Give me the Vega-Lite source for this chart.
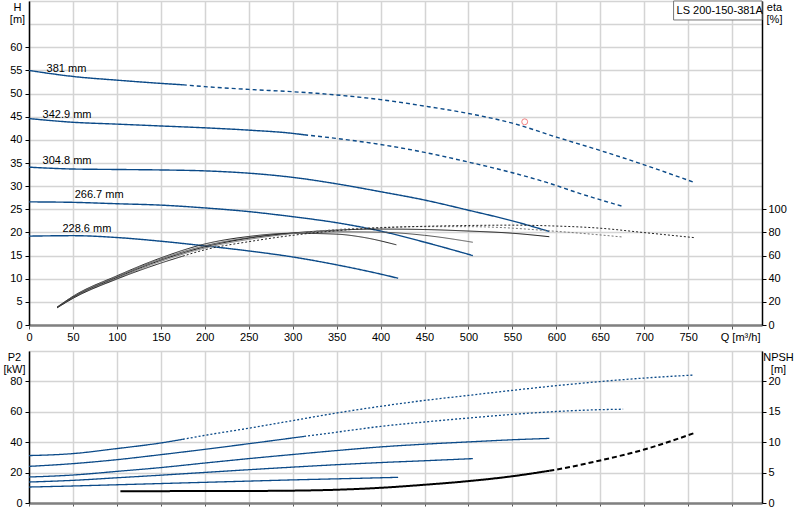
{
  "$schema": "https://vega.github.io/schema/vega-lite/v6.json",
  "description": "Pump performance curves LS 200-150-381A",
  "padding": {"left": 2, "top": 0, "right": 0, "bottom": 0},
  "spacing": 7,
  "datasets": {
    "head": [
      {"d": "381", "seg": "solid", "Q": 0, "H": 55.0},
      {"d": "381", "seg": "solid", "Q": 25, "H": 54.3},
      {"d": "381", "seg": "solid", "Q": 50, "H": 53.7},
      {"d": "381", "seg": "solid", "Q": 100, "H": 52.9},
      {"d": "381", "seg": "solid", "Q": 150, "H": 52.2},
      {"d": "381", "seg": "solid", "Q": 175, "H": 51.9},
      {"d": "381", "seg": "dash", "Q": 175, "H": 51.9},
      {"d": "381", "seg": "dash", "Q": 200, "H": 51.5},
      {"d": "381", "seg": "dash", "Q": 250, "H": 50.9},
      {"d": "381", "seg": "dash", "Q": 300, "H": 50.4},
      {"d": "381", "seg": "dash", "Q": 350, "H": 49.7},
      {"d": "381", "seg": "dash", "Q": 400, "H": 48.7},
      {"d": "381", "seg": "dash", "Q": 450, "H": 47.3},
      {"d": "381", "seg": "dash", "Q": 500, "H": 45.7},
      {"d": "381", "seg": "dash", "Q": 550, "H": 43.6},
      {"d": "381", "seg": "dash", "Q": 600, "H": 40.6},
      {"d": "381", "seg": "dash", "Q": 650, "H": 37.7},
      {"d": "381", "seg": "dash", "Q": 700, "H": 34.6},
      {"d": "381", "seg": "dash", "Q": 757, "H": 30.8},
      {"d": "342.9", "seg": "solid", "Q": 0, "H": 44.6},
      {"d": "342.9", "seg": "solid", "Q": 50, "H": 43.8},
      {"d": "342.9", "seg": "solid", "Q": 100, "H": 43.4},
      {"d": "342.9", "seg": "solid", "Q": 150, "H": 43.0},
      {"d": "342.9", "seg": "solid", "Q": 200, "H": 42.6},
      {"d": "342.9", "seg": "solid", "Q": 250, "H": 42.1},
      {"d": "342.9", "seg": "solid", "Q": 300, "H": 41.4},
      {"d": "342.9", "seg": "solid", "Q": 313, "H": 41.1},
      {"d": "342.9", "seg": "dash", "Q": 313, "H": 41.1},
      {"d": "342.9", "seg": "dash", "Q": 350, "H": 40.3},
      {"d": "342.9", "seg": "dash", "Q": 400, "H": 39.0},
      {"d": "342.9", "seg": "dash", "Q": 450, "H": 37.3},
      {"d": "342.9", "seg": "dash", "Q": 500, "H": 35.2},
      {"d": "342.9", "seg": "dash", "Q": 550, "H": 32.9},
      {"d": "342.9", "seg": "dash", "Q": 589, "H": 30.8},
      {"d": "342.9", "seg": "dash", "Q": 627, "H": 28.4},
      {"d": "342.9", "seg": "dash", "Q": 676, "H": 25.6},
      {"d": "304.8", "seg": "solid", "Q": 0, "H": 34.1},
      {"d": "304.8", "seg": "solid", "Q": 50, "H": 33.7},
      {"d": "304.8", "seg": "solid", "Q": 100, "H": 33.6},
      {"d": "304.8", "seg": "solid", "Q": 150, "H": 33.5},
      {"d": "304.8", "seg": "solid", "Q": 200, "H": 33.3},
      {"d": "304.8", "seg": "solid", "Q": 250, "H": 32.8},
      {"d": "304.8", "seg": "solid", "Q": 300, "H": 31.9},
      {"d": "304.8", "seg": "solid", "Q": 350, "H": 30.5},
      {"d": "304.8", "seg": "solid", "Q": 400, "H": 28.8},
      {"d": "304.8", "seg": "solid", "Q": 450, "H": 27.0},
      {"d": "304.8", "seg": "solid", "Q": 500, "H": 24.8},
      {"d": "304.8", "seg": "solid", "Q": 550, "H": 22.5},
      {"d": "304.8", "seg": "solid", "Q": 592, "H": 20.2},
      {"d": "266.7", "seg": "solid", "Q": 0, "H": 26.6},
      {"d": "266.7", "seg": "solid", "Q": 50, "H": 26.5},
      {"d": "266.7", "seg": "solid", "Q": 100, "H": 26.2},
      {"d": "266.7", "seg": "solid", "Q": 150, "H": 25.9},
      {"d": "266.7", "seg": "solid", "Q": 200, "H": 25.3},
      {"d": "266.7", "seg": "solid", "Q": 250, "H": 24.5},
      {"d": "266.7", "seg": "solid", "Q": 300, "H": 23.4},
      {"d": "266.7", "seg": "solid", "Q": 350, "H": 22.1},
      {"d": "266.7", "seg": "solid", "Q": 400, "H": 20.3},
      {"d": "266.7", "seg": "solid", "Q": 450, "H": 17.9},
      {"d": "266.7", "seg": "solid", "Q": 505, "H": 15.0},
      {"d": "228.6", "seg": "solid", "Q": 0, "H": 19.2},
      {"d": "228.6", "seg": "solid", "Q": 50, "H": 19.3},
      {"d": "228.6", "seg": "solid", "Q": 100, "H": 18.9},
      {"d": "228.6", "seg": "solid", "Q": 150, "H": 18.1},
      {"d": "228.6", "seg": "solid", "Q": 200, "H": 17.1},
      {"d": "228.6", "seg": "solid", "Q": 250, "H": 16.0},
      {"d": "228.6", "seg": "solid", "Q": 300, "H": 14.7},
      {"d": "228.6", "seg": "solid", "Q": 350, "H": 13.0},
      {"d": "228.6", "seg": "solid", "Q": 400, "H": 11.0},
      {"d": "228.6", "seg": "solid", "Q": 420, "H": 10.1}
    ],
    "eta": [
      {"d": "228.6", "seg": "solid", "Q": 32, "eta": 15.5},
      {"d": "228.6", "seg": "solid", "Q": 50, "eta": 24.8},
      {"d": "228.6", "seg": "solid", "Q": 100, "eta": 42.5},
      {"d": "228.6", "seg": "solid", "Q": 150, "eta": 58},
      {"d": "228.6", "seg": "solid", "Q": 200, "eta": 70},
      {"d": "228.6", "seg": "solid", "Q": 250, "eta": 76.5},
      {"d": "228.6", "seg": "solid", "Q": 300, "eta": 79.3},
      {"d": "228.6", "seg": "solid", "Q": 350, "eta": 78.5},
      {"d": "228.6", "seg": "solid", "Q": 380, "eta": 75.8},
      {"d": "228.6", "seg": "solid", "Q": 418, "eta": 69.3},
      {"d": "266.7", "seg": "solid", "Q": 32, "eta": 15.3},
      {"d": "266.7", "seg": "solid", "Q": 50, "eta": 24.3},
      {"d": "266.7", "seg": "solid", "Q": 100, "eta": 41.8},
      {"d": "266.7", "seg": "solid", "Q": 150, "eta": 57},
      {"d": "266.7", "seg": "solid", "Q": 200, "eta": 68.5},
      {"d": "266.7", "seg": "solid", "Q": 250, "eta": 75.5},
      {"d": "266.7", "seg": "solid", "Q": 300, "eta": 79.3},
      {"d": "266.7", "seg": "solid", "Q": 350, "eta": 80.5},
      {"d": "266.7", "seg": "solid", "Q": 400, "eta": 80.2},
      {"d": "266.7", "seg": "solid", "Q": 450, "eta": 77.5},
      {"d": "266.7", "seg": "solid", "Q": 505, "eta": 71.5},
      {"d": "304.8", "seg": "solid", "Q": 32, "eta": 15.2},
      {"d": "304.8", "seg": "solid", "Q": 50, "eta": 23.8},
      {"d": "304.8", "seg": "solid", "Q": 100, "eta": 41},
      {"d": "304.8", "seg": "solid", "Q": 150, "eta": 56},
      {"d": "304.8", "seg": "solid", "Q": 200, "eta": 67.5},
      {"d": "304.8", "seg": "solid", "Q": 250, "eta": 75},
      {"d": "304.8", "seg": "solid", "Q": 300, "eta": 79.5},
      {"d": "304.8", "seg": "solid", "Q": 350, "eta": 82},
      {"d": "304.8", "seg": "solid", "Q": 400, "eta": 82.9},
      {"d": "304.8", "seg": "solid", "Q": 450, "eta": 82.5},
      {"d": "304.8", "seg": "solid", "Q": 500, "eta": 81.2},
      {"d": "304.8", "seg": "solid", "Q": 550, "eta": 79.3},
      {"d": "304.8", "seg": "solid", "Q": 592, "eta": 76.3},
      {"d": "342.9", "seg": "solid", "Q": 32, "eta": 15},
      {"d": "342.9", "seg": "solid", "Q": 50, "eta": 23.3},
      {"d": "342.9", "seg": "solid", "Q": 100, "eta": 40.3},
      {"d": "342.9", "seg": "solid", "Q": 150, "eta": 55},
      {"d": "342.9", "seg": "solid", "Q": 200, "eta": 66.5},
      {"d": "342.9", "seg": "solid", "Q": 250, "eta": 74},
      {"d": "342.9", "seg": "solid", "Q": 300, "eta": 79},
      {"d": "342.9", "seg": "solid", "Q": 313, "eta": 80},
      {"d": "342.9", "seg": "dot", "Q": 313, "eta": 80},
      {"d": "342.9", "seg": "dot", "Q": 350, "eta": 82.5},
      {"d": "342.9", "seg": "dot", "Q": 400, "eta": 84.3},
      {"d": "342.9", "seg": "dot", "Q": 450, "eta": 85},
      {"d": "342.9", "seg": "dot", "Q": 500, "eta": 85},
      {"d": "342.9", "seg": "dot", "Q": 535, "eta": 84.3},
      {"d": "342.9", "seg": "dot", "Q": 592, "eta": 81.4},
      {"d": "342.9", "seg": "dot", "Q": 640, "eta": 78.5},
      {"d": "342.9", "seg": "dot", "Q": 676, "eta": 76},
      {"d": "381", "seg": "solid", "Q": 32, "eta": 14.8},
      {"d": "381", "seg": "solid", "Q": 50, "eta": 23},
      {"d": "381", "seg": "solid", "Q": 100, "eta": 39.7},
      {"d": "381", "seg": "solid", "Q": 150, "eta": 53.5},
      {"d": "381", "seg": "solid", "Q": 175, "eta": 59.5},
      {"d": "381", "seg": "dot", "Q": 175, "eta": 59.5},
      {"d": "381", "seg": "dot", "Q": 200, "eta": 65},
      {"d": "381", "seg": "dot", "Q": 250, "eta": 72},
      {"d": "381", "seg": "dot", "Q": 300, "eta": 77.5},
      {"d": "381", "seg": "dot", "Q": 350, "eta": 81.5},
      {"d": "381", "seg": "dot", "Q": 400, "eta": 84},
      {"d": "381", "seg": "dot", "Q": 450, "eta": 85.3},
      {"d": "381", "seg": "dot", "Q": 500, "eta": 86},
      {"d": "381", "seg": "dot", "Q": 550, "eta": 86.3},
      {"d": "381", "seg": "dot", "Q": 592, "eta": 85.7},
      {"d": "381", "seg": "dot", "Q": 649, "eta": 83.7},
      {"d": "381", "seg": "dot", "Q": 702, "eta": 79.7},
      {"d": "381", "seg": "dot", "Q": 757, "eta": 75.5}
    ],
    "p2": [
      {"d": "381", "seg": "solid", "Q": 0, "P2": 31.2},
      {"d": "381", "seg": "solid", "Q": 50, "P2": 32.5},
      {"d": "381", "seg": "solid", "Q": 100, "P2": 35.8},
      {"d": "381", "seg": "solid", "Q": 150, "P2": 39.5},
      {"d": "381", "seg": "solid", "Q": 175, "P2": 41.9},
      {"d": "381", "seg": "dot", "Q": 175, "P2": 41.9},
      {"d": "381", "seg": "dot", "Q": 200, "P2": 44.5},
      {"d": "381", "seg": "dot", "Q": 250, "P2": 49.2},
      {"d": "381", "seg": "dot", "Q": 300, "P2": 54.2},
      {"d": "381", "seg": "dot", "Q": 350, "P2": 59.2},
      {"d": "381", "seg": "dot", "Q": 400, "P2": 63.6},
      {"d": "381", "seg": "dot", "Q": 450, "P2": 67.5},
      {"d": "381", "seg": "dot", "Q": 500, "P2": 70.8},
      {"d": "381", "seg": "dot", "Q": 550, "P2": 74.1},
      {"d": "381", "seg": "dot", "Q": 600, "P2": 77.2},
      {"d": "381", "seg": "dot", "Q": 650, "P2": 79.9},
      {"d": "381", "seg": "dot", "Q": 700, "P2": 82.2},
      {"d": "381", "seg": "dot", "Q": 757, "P2": 84.2},
      {"d": "342.9", "seg": "solid", "Q": 0, "P2": 24.1},
      {"d": "342.9", "seg": "solid", "Q": 50, "P2": 25.9},
      {"d": "342.9", "seg": "solid", "Q": 100, "P2": 28.5},
      {"d": "342.9", "seg": "solid", "Q": 150, "P2": 31.8},
      {"d": "342.9", "seg": "solid", "Q": 200, "P2": 35.3},
      {"d": "342.9", "seg": "solid", "Q": 250, "P2": 39.0},
      {"d": "342.9", "seg": "solid", "Q": 300, "P2": 42.8},
      {"d": "342.9", "seg": "solid", "Q": 313, "P2": 43.8},
      {"d": "342.9", "seg": "dot", "Q": 313, "P2": 43.8},
      {"d": "342.9", "seg": "dot", "Q": 350, "P2": 46.6},
      {"d": "342.9", "seg": "dot", "Q": 400, "P2": 50.4},
      {"d": "342.9", "seg": "dot", "Q": 450, "P2": 53.3},
      {"d": "342.9", "seg": "dot", "Q": 500, "P2": 55.9},
      {"d": "342.9", "seg": "dot", "Q": 550, "P2": 58.3},
      {"d": "342.9", "seg": "dot", "Q": 600, "P2": 60.2},
      {"d": "342.9", "seg": "dot", "Q": 650, "P2": 61.4},
      {"d": "342.9", "seg": "dot", "Q": 676, "P2": 61.7},
      {"d": "304.8", "seg": "solid", "Q": 0, "P2": 17.1},
      {"d": "304.8", "seg": "solid", "Q": 50, "P2": 18.4},
      {"d": "304.8", "seg": "solid", "Q": 100, "P2": 20.8},
      {"d": "304.8", "seg": "solid", "Q": 150, "P2": 23.3},
      {"d": "304.8", "seg": "solid", "Q": 200, "P2": 26.3},
      {"d": "304.8", "seg": "solid", "Q": 250, "P2": 29.2},
      {"d": "304.8", "seg": "solid", "Q": 300, "P2": 31.9},
      {"d": "304.8", "seg": "solid", "Q": 350, "P2": 34.5},
      {"d": "304.8", "seg": "solid", "Q": 400, "P2": 36.9},
      {"d": "304.8", "seg": "solid", "Q": 450, "P2": 38.7},
      {"d": "304.8", "seg": "solid", "Q": 500, "P2": 40.2},
      {"d": "304.8", "seg": "solid", "Q": 550, "P2": 41.6},
      {"d": "304.8", "seg": "solid", "Q": 592, "P2": 42.5},
      {"d": "266.7", "seg": "solid", "Q": 0, "P2": 13.8},
      {"d": "266.7", "seg": "solid", "Q": 50, "P2": 14.9},
      {"d": "266.7", "seg": "solid", "Q": 100, "P2": 16.6},
      {"d": "266.7", "seg": "solid", "Q": 150, "P2": 18.3},
      {"d": "266.7", "seg": "solid", "Q": 200, "P2": 20.1},
      {"d": "266.7", "seg": "solid", "Q": 250, "P2": 21.9},
      {"d": "266.7", "seg": "solid", "Q": 300, "P2": 23.6},
      {"d": "266.7", "seg": "solid", "Q": 350, "P2": 25.2},
      {"d": "266.7", "seg": "solid", "Q": 400, "P2": 26.6},
      {"d": "266.7", "seg": "solid", "Q": 450, "P2": 27.8},
      {"d": "266.7", "seg": "solid", "Q": 505, "P2": 29.2},
      {"d": "228.6", "seg": "solid", "Q": 0, "P2": 10.5},
      {"d": "228.6", "seg": "solid", "Q": 50, "P2": 11.2},
      {"d": "228.6", "seg": "solid", "Q": 100, "P2": 12.0},
      {"d": "228.6", "seg": "solid", "Q": 150, "P2": 12.8},
      {"d": "228.6", "seg": "solid", "Q": 200, "P2": 13.6},
      {"d": "228.6", "seg": "solid", "Q": 250, "P2": 14.4},
      {"d": "228.6", "seg": "solid", "Q": 300, "P2": 15.2},
      {"d": "228.6", "seg": "solid", "Q": 350, "P2": 15.9},
      {"d": "228.6", "seg": "solid", "Q": 400, "P2": 16.6},
      {"d": "228.6", "seg": "solid", "Q": 420, "P2": 16.9}
    ],
    "npsh": [
      {"seg": "solid", "Q": 104, "NPSH": 1.92},
      {"seg": "solid", "Q": 150, "NPSH": 1.95},
      {"seg": "solid", "Q": 200, "NPSH": 1.96},
      {"seg": "solid", "Q": 250, "NPSH": 1.98},
      {"seg": "solid", "Q": 300, "NPSH": 2.03},
      {"seg": "solid", "Q": 350, "NPSH": 2.18},
      {"seg": "solid", "Q": 400, "NPSH": 2.5},
      {"seg": "solid", "Q": 450, "NPSH": 3.0},
      {"seg": "solid", "Q": 500, "NPSH": 3.6},
      {"seg": "solid", "Q": 550, "NPSH": 4.4},
      {"seg": "solid", "Q": 592, "NPSH": 5.3},
      {"seg": "dash", "Q": 592, "NPSH": 5.3},
      {"seg": "dash", "Q": 600, "NPSH": 5.5},
      {"seg": "dash", "Q": 650, "NPSH": 7.0},
      {"seg": "dash", "Q": 700, "NPSH": 8.8},
      {"seg": "dash", "Q": 757, "NPSH": 11.5}
    ],
    "labels": [
      {"Q": 20, "H": 55.4, "text": "381 mm"},
      {"Q": 15.5, "H": 45.4, "text": "342.9 mm"},
      {"Q": 15.5, "H": 35.5, "text": "304.8 mm"},
      {"Q": 52, "H": 28.1, "text": "266.7 mm"},
      {"Q": 38, "H": 20.8, "text": "228.6 mm"}
    ],
    "model": [
      {"Q": 733.4, "Q2": 834, "H": 65.9, "H2": 70, "text": "LS 200-150-381A"}
    ],
    "duty": [
      {"Q": 564, "H": 43.9}
    ]
  },
  "vconcat": [
    {
      "width": 733,
      "height": 324,
      "encoding": {
        "x": {
          "field": "Q", "type": "quantitative",
          "scale": {"domain": [0, 834], "nice": false, "zero": false},
          "axis": {
            "title": null,
            "values": [0, 50, 100, 150, 200, 250, 300, 350, 400, 450, 500, 550, 600, 650, 700, 750, 800],
            "labelExpr": "datum.value == 800 ? 'Q [m³/h]' : datum.label",
            "labelOffset": {"condition": {"test": "datum.value == 800", "value": 8}, "value": 0},
            "labelFlush": false,
            "grid": true, "gridColor": "#d4d4d4", "gridWidth": 1.5,
            "domainColor": "#808080", "domainWidth": 2.5,
            "tickColor": "#555", "tickSize": 4, "labelPadding": 2
          }
        }
      },
      "layer": [
        {
          "encoding": {
            "y": {
              "field": "H", "type": "quantitative",
              "scale": {"domain": [0, 70], "nice": false},
              "axis": {
                "orient": "left",
                "values": [0, 5, 10, 15, 20, 25, 30, 35, 40, 45, 50, 55, 60, 65, 70],
                "labelExpr": "datum.value > 60 ? '' : datum.label",
                "tickColor": {"condition": {"test": "datum.value > 60", "value": "transparent"}, "value": "#000"},
                "tickSize": 4, "labelPadding": 3,
                "grid": true, "gridColor": "#d4d4d4", "gridWidth": 1.5,
                "domainColor": "#000", "domainWidth": 1.5,
                "title": ["H", "[m]"], "titleAngle": 0, "titleAlign": "center",
                "titleBaseline": "top", "titleX": -12, "titleY": 0, "titleLineHeight": 12
              }
            }
          },
          "layer": [
            {
              "data": {"name": "head"},
              "mark": {"type": "line", "strokeWidth": 1.4, "color": "#0b4a88", "interpolate": "monotone"},
              "encoding": {
                "detail": {"field": "d"},
                "strokeDash": {
                  "field": "seg", "type": "nominal",
                  "scale": {"domain": ["solid", "dash"], "range": [[1, 0], [4, 3]]},
                  "legend": null
                }
              }
            },
            {
              "data": {"name": "labels"},
              "mark": {"type": "text", "align": "left", "baseline": "middle", "fontSize": 11, "color": "#000"},
              "encoding": {
                "text": {"field": "text"}
              }
            },
            {
              "data": {"name": "model"},
              "mark": {"type": "rect", "fill": "#fff", "stroke": "#777", "strokeWidth": 1},
              "encoding": {
                "x2": {"field": "Q2"},
                "y2": {"field": "H2"}
              }
            },
            {
              "data": {"name": "model"},
              "mark": {"type": "text", "align": "left", "baseline": "middle", "fontSize": 11, "color": "#000", "dx": 3, "dy": -9},
              "encoding": {
                "text": {"field": "text"}
              }
            },
            {
              "data": {"name": "duty"},
              "mark": {"type": "point", "shape": "circle", "filled": false, "color": "#f05050", "size": 35, "strokeWidth": 1},
              "encoding": {}
            }
          ]
        },
        {
          "data": {"name": "eta"},
          "mark": {"type": "line", "strokeWidth": 1, "interpolate": "monotone"},
          "encoding": {
            "y": {
              "field": "eta", "type": "quantitative",
              "scale": {"domain": [0, 280], "nice": false},
              "axis": {
                "orient": "right",
                "values": [0, 20, 40, 60, 80, 100],
                "grid": false, "tickColor": "#000", "tickSize": 4, "labelPadding": 2,
                "domainColor": "#000", "domainWidth": 1.5,
                "title": ["eta", "[%]"], "titleAngle": 0, "titleAlign": "center",
                "titleBaseline": "top", "titleX": 12, "titleY": 0, "titleLineHeight": 12
              }
            },
            "detail": {"field": "d"},
            "color": {
              "field": "d", "type": "nominal",
              "scale": {"domain": ["228.6", "266.7", "304.8", "342.9", "381"], "range": ["#222222", "#555555", "#111111", "#777777", "#222222"]},
              "legend": null
            },
            "strokeDash": {
              "field": "seg", "type": "nominal",
              "scale": {"domain": ["solid", "dot"], "range": [[1, 0], [2, 2]]},
              "legend": null
            }
          }
        }
      ],
      "resolve": {"scale": {"y": "independent", "strokeDash": "independent", "color": "independent"}}
    },
    {
      "width": 733,
      "height": 152,
      "encoding": {
        "x": {
          "field": "Q", "type": "quantitative",
          "scale": {"domain": [0, 834], "nice": false, "zero": false},
          "axis": {
            "title": null, "labels": false,
            "values": [0, 50, 100, 150, 200, 250, 300, 350, 400, 450, 500, 550, 600, 650, 700, 750, 800],
            "grid": true, "gridColor": "#d4d4d4", "gridWidth": 1.5,
            "domainColor": "#808080", "domainWidth": 2.5,
            "tickColor": "#555", "tickSize": 3
          }
        }
      },
      "layer": [
        {
          "data": {"name": "p2"},
          "mark": {"type": "line", "strokeWidth": 1.3, "color": "#0b4a88", "interpolate": "monotone"},
          "encoding": {
            "y": {
              "field": "P2", "type": "quantitative",
              "scale": {"domain": [0, 100], "nice": false},
              "axis": {
                "orient": "left",
                "values": [0, 20, 40, 60, 80, 100],
                "labelExpr": "datum.value > 80 ? '' : datum.label",
                "tickColor": {"condition": {"test": "datum.value > 80", "value": "transparent"}, "value": "#000"},
                "tickSize": 4, "labelPadding": 3,
                "grid": true, "gridColor": "#d4d4d4", "gridWidth": 1.5,
                "domainColor": "#000", "domainWidth": 1.5,
                "title": ["P2", "[kW]"], "titleAngle": 0, "titleAlign": "center",
                "titleBaseline": "top", "titleX": -15, "titleY": 0, "titleLineHeight": 12
              }
            },
            "detail": {"field": "d"},
            "strokeDash": {
              "field": "seg", "type": "nominal",
              "scale": {"domain": ["solid", "dot"], "range": [[1, 0], [2, 2]]},
              "legend": null
            }
          }
        },
        {
          "data": {"name": "npsh"},
          "mark": {"type": "line", "strokeWidth": 2, "color": "#000", "interpolate": "monotone"},
          "encoding": {
            "y": {
              "field": "NPSH", "type": "quantitative",
              "scale": {"domain": [0, 25], "nice": false},
              "axis": {
                "orient": "right",
                "values": [0, 5, 10, 15, 20],
                "grid": false, "tickColor": "#000", "tickSize": 4, "labelPadding": 2,
                "domainColor": "#000", "domainWidth": 1.5,
                "title": ["NPSH", "[m]"], "titleAngle": 0, "titleAlign": "center",
                "titleBaseline": "top", "titleX": 16, "titleY": 0, "titleLineHeight": 12
              }
            },
            "strokeDash": {
              "field": "seg", "type": "nominal",
              "scale": {"domain": ["solid", "dash"], "range": [[1, 0], [5, 3]]},
              "legend": null
            }
          }
        }
      ],
      "resolve": {"scale": {"y": "independent", "strokeDash": "independent"}}
    }
  ],
  "resolve": {"scale": {"strokeDash": "independent", "color": "independent"}},
  "config": {
    "view": {"stroke": "#888888", "strokeWidth": 1},
    "font": "Liberation Sans",
    "axis": {
      "labelFont": "Liberation Sans", "labelFontSize": 11, "labelColor": "#000",
      "titleFont": "Liberation Sans", "titleFontSize": 11, "titleFontWeight": "normal", "titleColor": "#000"
    },
    "text": {"font": "Liberation Sans"}
  }
}
